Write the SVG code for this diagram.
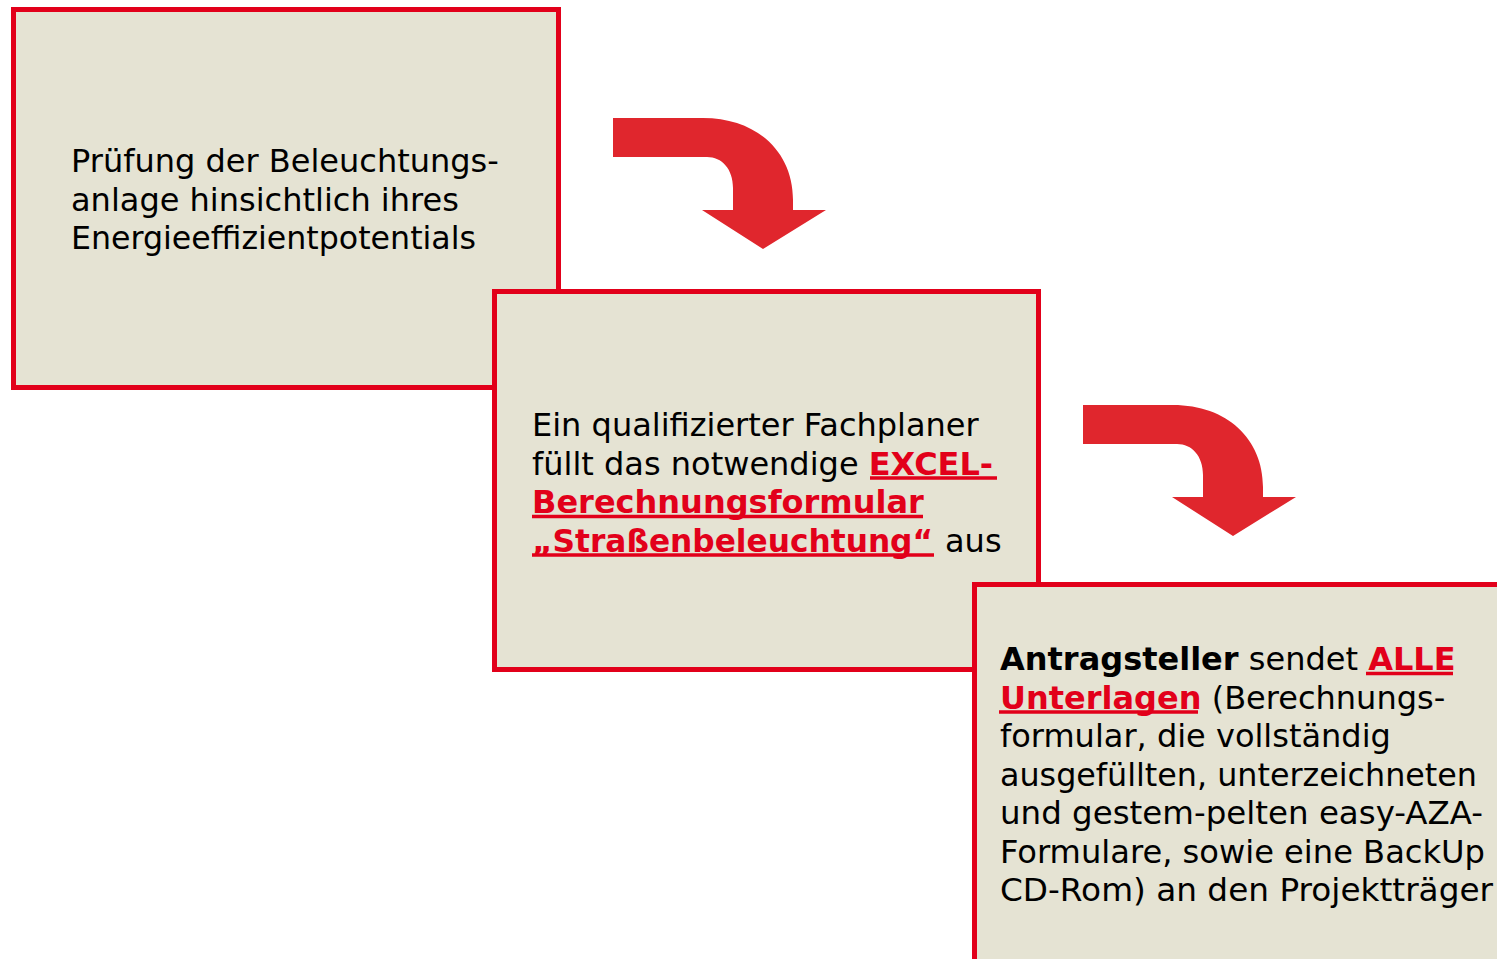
<svg xmlns="http://www.w3.org/2000/svg" width="1497" height="959" viewBox="0 0 1497 959">
  <style>
    .box { fill: #E5E3D3; stroke: #E2001A; stroke-width: 5; }
    .arrow { fill: #E0262D; }
    text { font-family: "DejaVu Sans", Verdana, sans-serif; font-size: 32px; fill: #000; }
    .hl { font-weight: bold; fill: #E2001A; }
    .b { font-weight: bold; }
    .ul { stroke: #E2001A; stroke-width: 3.5; }
  </style>
  <defs>
    <!-- bent arrow: horizontal band turning down into an arrowhead -->
    <path id="bend" d="M613,118 L703,118 C757,118 793,152 793,200 L793,210 L826,210 L763,249 L702,210 L733,210 L733,188 C733,169 722,157 707,157 L613,157 Z"/>
  </defs>

  <!-- step 1 -->
  <g id="step1">
    <rect class="box" x="13.5" y="9.5" width="545" height="378"/>
    <text x="71" y="172">Prüfung der Beleuchtungs-</text>
    <text x="71" y="210.5">anlage hinsichtlich ihres</text>
    <text x="71" y="249" textLength="405" lengthAdjust="spacingAndGlyphs">Energieeffizientpotentials</text>
  </g>

  <!-- step 2 -->
  <g id="step2">
    <rect class="box" x="494.5" y="291.5" width="544" height="378"/>
    <text x="532" y="436">Ein qualifizierter Fachplaner</text>
    <text x="532" y="474.5">füllt das notwendige <tspan class="hl">EXCEL-</tspan></text>
    <text x="532" y="513"><tspan class="hl">Berechnungsformular</tspan></text>
    <text x="532" y="551.5" class="hl" textLength="401" lengthAdjust="spacingAndGlyphs">„Straßenbeleuchtung“</text>
    <text x="945" y="551.5">aus</text>
    <line class="ul" x1="870" y1="478" x2="997" y2="478"/>
    <line class="ul" x1="532" y1="516.5" x2="923" y2="516.5"/>
    <line class="ul" x1="532" y1="555" x2="934" y2="555"/>
  </g>

  <!-- step 3 -->
  <g id="step3">
    <rect class="box" x="974.5" y="584.5" width="600" height="420"/>
    <text x="1000" y="670"><tspan class="b">Antragsteller</tspan> sendet <tspan class="hl">ALLE</tspan></text>
    <text x="1000" y="708.5"><tspan class="hl">Unterlagen</tspan> (Berechnungs-</text>
    <text x="1000" y="747">formular, die vollständig</text>
    <text x="1000" y="785.5" textLength="477" lengthAdjust="spacingAndGlyphs">ausgefüllten, unterzeichneten</text>
    <text x="1000" y="824" textLength="483" lengthAdjust="spacingAndGlyphs">und gestem-pelten easy-AZA-</text>
    <text x="1000" y="862.5" textLength="485" lengthAdjust="spacingAndGlyphs">Formulare, sowie eine BackUp</text>
    <text x="1000" y="901" textLength="493" lengthAdjust="spacingAndGlyphs">CD-Rom) an den Projektträger</text>
    <line class="ul" x1="1366" y1="673.5" x2="1453" y2="673.5"/>
    <line class="ul" x1="999" y1="712" x2="1198" y2="712"/>
  </g>

  <!-- connectors -->
  <g id="connectors">
    <use href="#bend" class="arrow"/>
    <use href="#bend" class="arrow" transform="translate(470,287)"/>
  </g>
</svg>
